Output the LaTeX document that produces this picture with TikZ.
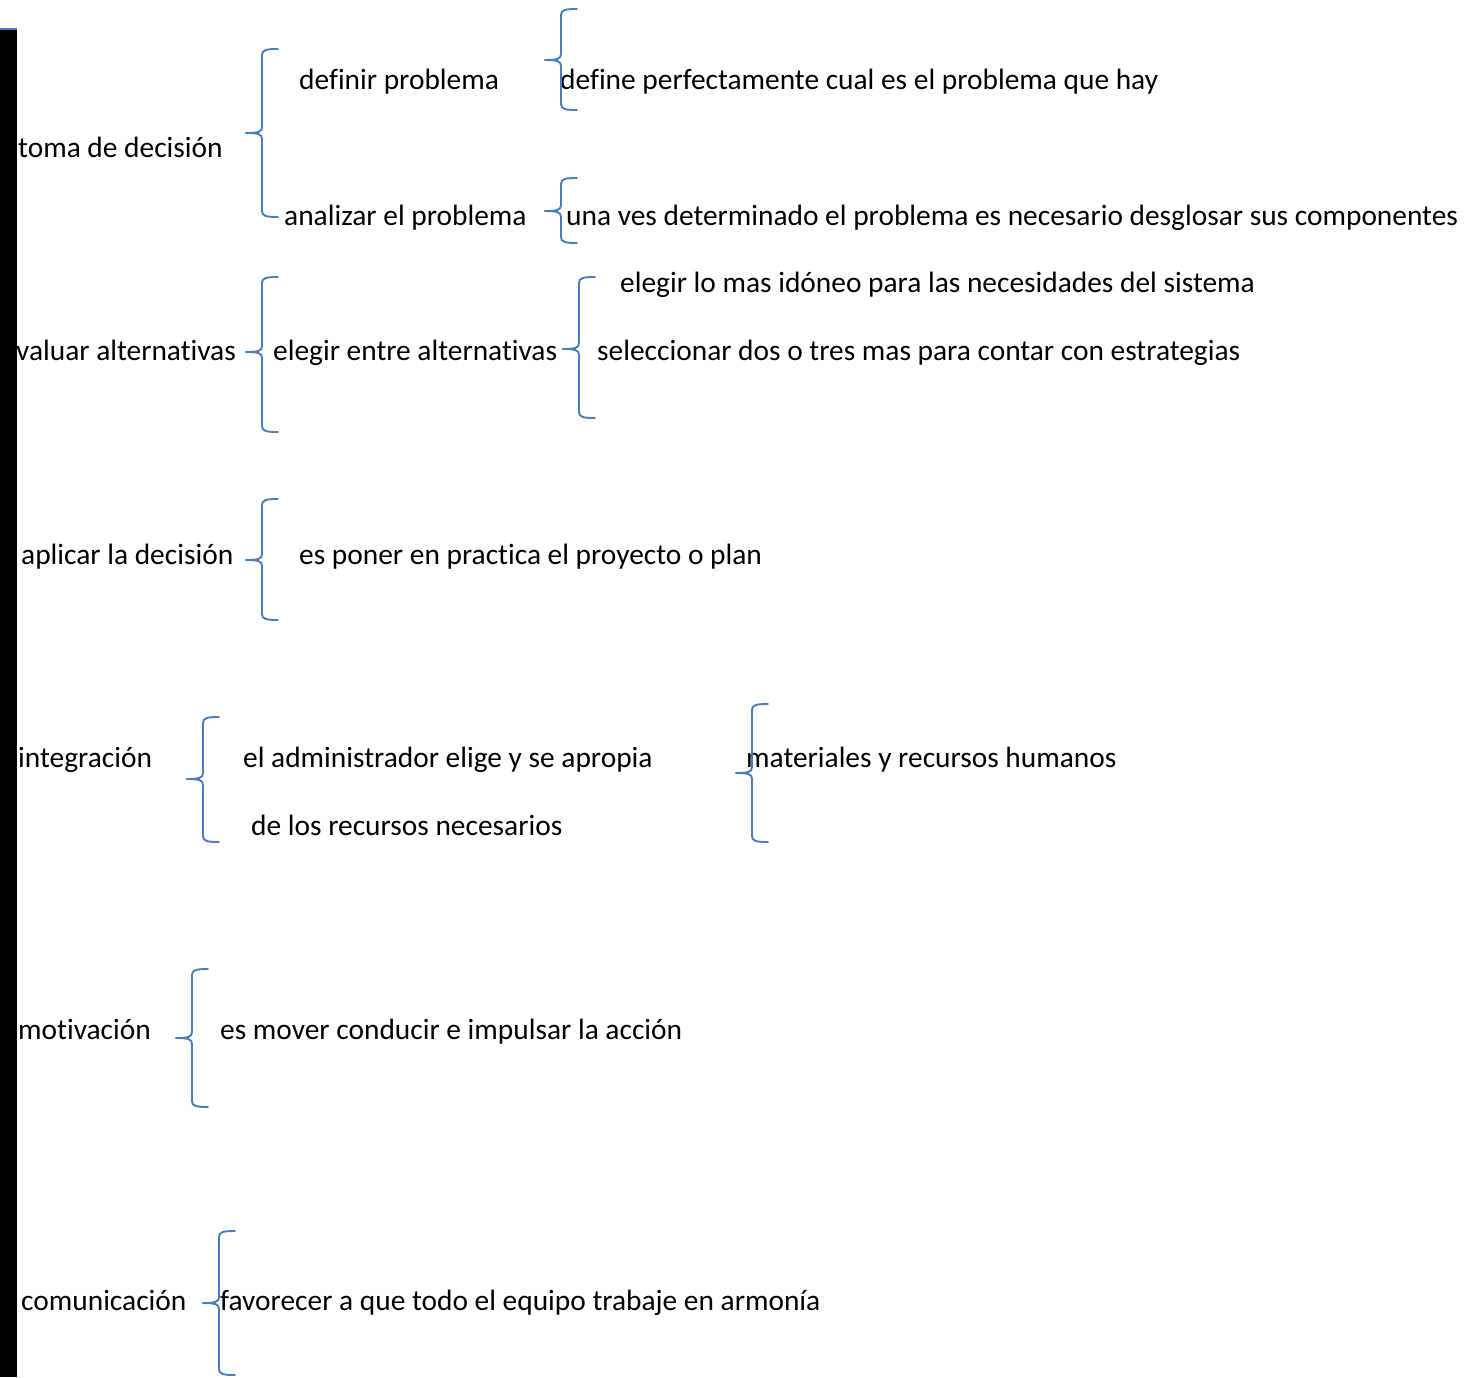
\documentclass[tikz,border=0pt]{standalone}
\usepackage{fontspec}
\setmainfont{Carlito}[Ligatures=NoCommon]
\definecolor{brblue}{RGB}{74,126,187}
\newcommand{\wordbrace}[4]{% x, top, mid, bottom
  \draw[brace] (#1+16,#2) .. controls (#1+4,#2) and (#1,#2+1) .. (#1,#2+6)
    -- (#1,#3-6) .. controls (#1,#3-1) and (#1-4,#3) .. (#1-16,#3);
  \draw[brace] (#1-16,#3) .. controls (#1-4,#3) and (#1,#3+1) .. (#1,#3+6)
    -- (#1,#4-6) .. controls (#1,#4-1) and (#1+4,#4) .. (#1+16,#4);
}
\begin{document}
\begin{tikzpicture}[x=1pt,y=-1pt,
  txt/.style={anchor=base west,inner sep=0pt,font=\fontsize{29.4}{34}\selectfont},
  brace/.style={draw=brblue,line width=1.9pt,line cap=round}]
\useasboundingbox (0,0) rectangle (1465,1377);
% text
\node[txt] (t1) at (18,157) {toma de decisión};
\node[txt] (t2) at (299,89) {definir problema};
\node[txt] (t3) at (284,225) {analizar el problema};
\node[txt] (t4) at (560,89) {define perfectamente cual es el problema que hay};
\node[txt] (t5) at (566,225) {una ves determinado el problema es necesario desglosar sus componentes};
\node[txt] (t6) at (620,292) {elegir lo mas idóneo para las necesidades del sistema};
\node[txt] (t7) at (16,360) {valuar alternativas};
\node[txt] (t8) at (273,360) {elegir entre alternativas};
\node[txt] (t9) at (597,360) {seleccionar dos o tres mas para contar con estrategias};
\node[txt] (t10) at (21,564) {aplicar la decisión};
\node[txt] (t11) at (299,564) {es poner en practica el proyecto o plan};
\node[txt] (t12) at (18,767) {integración};
\node[txt] (t13) at (243,767) {el administrador elige y se apropia};
\node[txt] (t14) at (251,835) {de los recursos necesarios};
\node[txt] (t15) at (746,767) {materiales y recursos humanos};
\node[txt] (t16) at (18,1039) {motivación};
\node[txt] (t17) at (220,1039) {es mover conducir e impulsar la acción};
\node[txt] (t18) at (21,1310) {comunicación};
\node[txt] (t19) at (220,1310) {favorecer a que todo el equipo trabaje en armonía};
% braces
\wordbrace{262}{49}{133}{217}
\wordbrace{561}{9}{60}{110}
\wordbrace{561}{178}{211}{243}
\wordbrace{262}{277}{352}{432}
\wordbrace{579}{277}{349}{418}
\wordbrace{262}{499}{560}{620}
\wordbrace{203}{717}{779}{842}
\wordbrace{752}{704}{773}{842}
\wordbrace{192}{969}{1038}{1107}
\wordbrace{219}{1231}{1303}{1375}
% left bar
\fill[black] (0,29) rectangle (17,1377);
\draw[brblue,line width=2pt] (0,29) -- (17,29);
\end{tikzpicture}
\end{document}
